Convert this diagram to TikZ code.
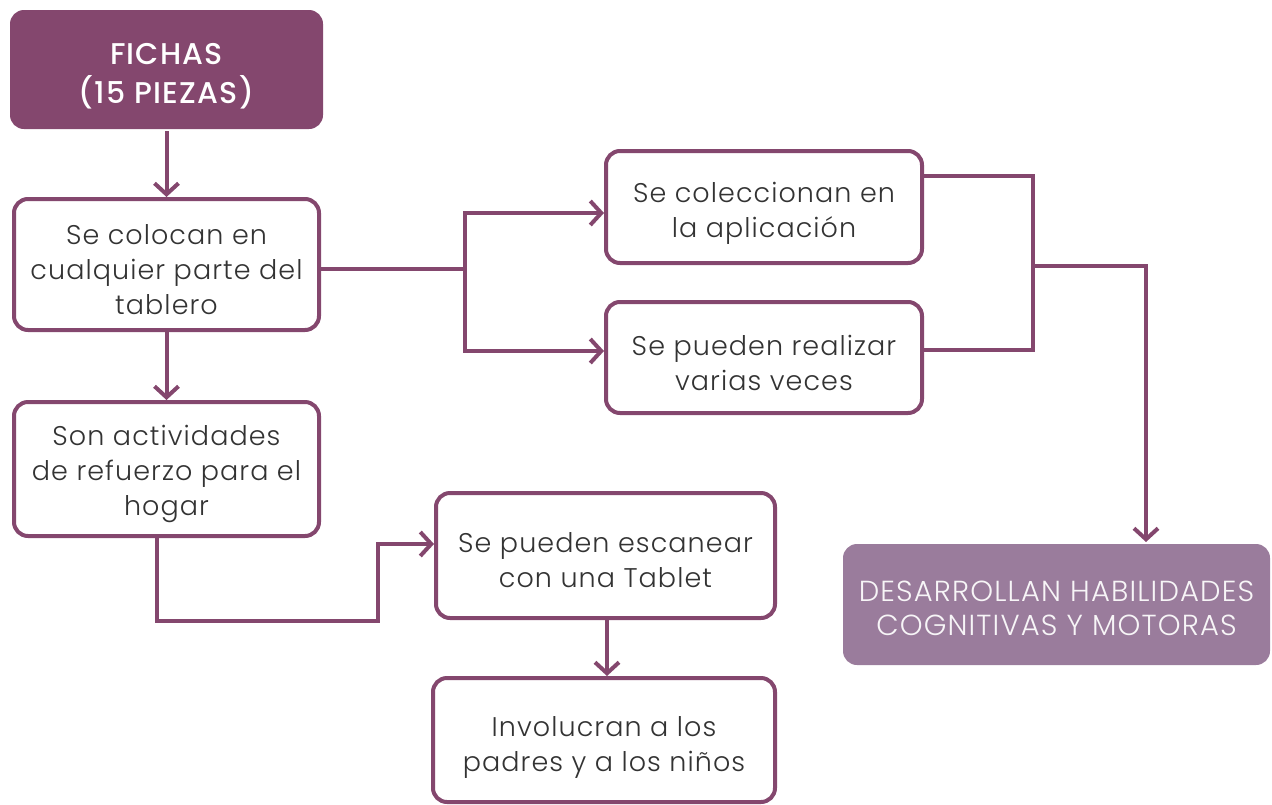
\documentclass[tikz,border=0pt]{standalone}
\usepackage{fontspec}
\setmainfont{Poppins}[UprightFont={* Light},BoldFont={* Medium},LetterSpace=4]
\usetikzlibrary{arrows.meta}
\definecolor{plum}{HTML}{84476E}
\definecolor{lplum}{HTML}{9A7C9C}
\definecolor{txt}{HTML}{333333}
\tikzset{
  box/.style={draw=plum, line width=4pt, rounded corners=14pt, fill=white, inner sep=0pt},
  lbl/.style={text=txt, align=center, font=\fontsize{27}{35}\selectfont, inner sep=0pt},
  conn/.style={draw=plum, line width=4pt},
  arr/.style={conn, -{Straight Barb[length=11pt,width=24pt,line width=4pt]}},
}
\begin{document}
\begin{tikzpicture}[x=1pt,y=-1pt]
\useasboundingbox (0,0) rectangle (1272,804);
% boxes
\node[box, fill=plum, draw=none, minimum width=313pt, minimum height=119pt] (n1) at (166.5,69.5) {};
\node[box, minimum width=305pt, minimum height=131pt] (n2) at (166.5,264.5) {};
\node[box, minimum width=305pt, minimum height=134pt] (n3) at (166.5,469) {};
\node[box, minimum width=316pt, minimum height=112pt] (n4) at (764,207) {};
\node[box, minimum width=316pt, minimum height=111pt] (n5) at (764,357.5) {};
\node[box, minimum width=339pt, minimum height=125pt] (n6) at (605.5,555.5) {};
\node[box, minimum width=342pt, minimum height=124pt] (n7) at (604,740) {};
\node[box, fill=lplum, draw=none, minimum width=427pt, minimum height=121pt] (n8) at (1056.5,604.5) {};
% texts
\node[lbl, text=white, font=\fontsize{30}{39}\selectfont\bfseries] (t1) at ([yshift=-7pt]n1.center) {FICHAS\\(15 PIEZAS)};
\node[lbl] (t2) at ([yshift=-5pt]n2.center) {Se colocan en\\cualquier parte del\\tablero};
\node[lbl] (t3) at ([yshift=-5pt]n3.center) {Son actividades\\de refuerzo para el\\hogar};
\node[lbl] (t4) at ([yshift=-6pt]n4.center) {Se coleccionan en\\la aplicación};
\node[lbl] (t5) at ([yshift=-5pt]n5.center) {Se pueden realizar\\varias veces};
\node[lbl] (t6) at ([yshift=-5pt]n6.center) {Se pueden escanear\\con una Tablet};
\node[lbl] (t7) at ([yshift=-7pt]n7.center) {Involucran a los\\padres y a los niños};
\node[lbl, text=white!92!lplum, font=\fontsize{29}{34}\selectfont] (t8) at ([yshift=-4pt]n8.center) {DESARROLLAN HABILIDADES\\COGNITIVAS Y MOTORAS};
% coordinates
\coordinate (j1) at (465,269);
\coordinate (j2) at (1033,266);
% connectors
\draw[arr] (n1.south) -- (n2.north);
\draw[arr] (n2.south) -- (n3.north);
\draw[conn] (n2.east |- j1) -- (j1);
\draw[arr] (j1) |- (n4.west |- 0,213);
\draw[arr] (j1) |- (n5.west |- 0,351);
\draw[conn] (n4.east |- 0,176) -| (j2);
\draw[conn] (n5.east |- 0,350) -| (j2);
\draw[arr] (j2) -| (1146,0 |- n8.north);
\draw[arr] (157,0 |- n3.south) -- (157,621) -- (378,621) |- (n6.west |- 0,544);
\draw[arr] (607,0 |- n6.south) -- (607,0 |- n7.north);
\end{tikzpicture}
\end{document}
